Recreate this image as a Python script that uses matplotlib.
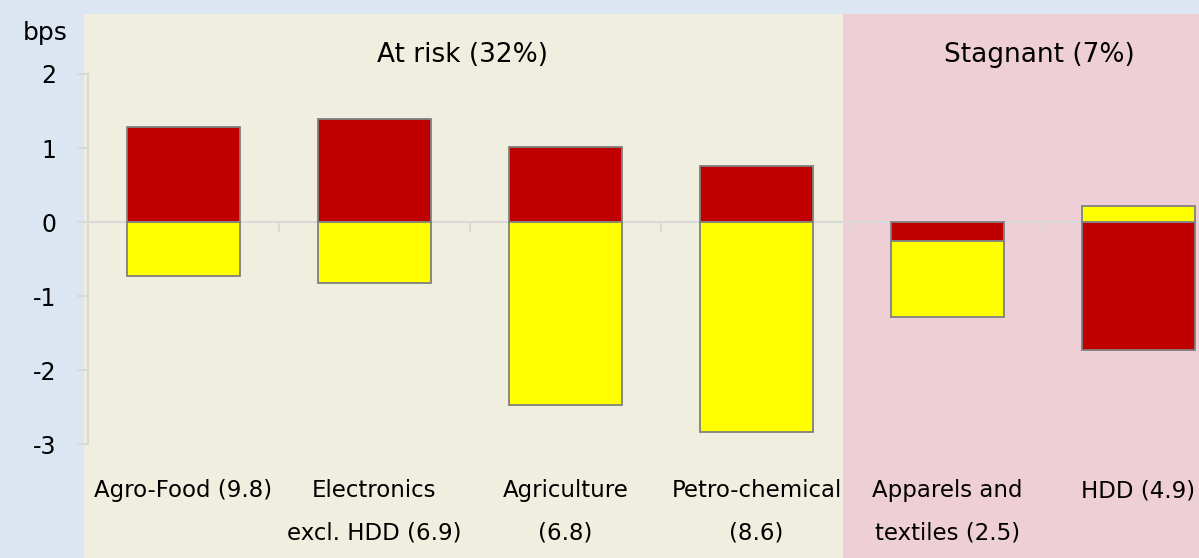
import numpy as np
import matplotlib.pyplot as plt
from matplotlib.patches import Rectangle

sectors = ["Agro-Food (9.8)", "Electronics\nexcl. HDD (6.9)", "Agriculture\n(6.8)",
           "Petro-chemical\n(8.6)", "Apparels and\ntextiles (2.5)", "HDD (4.9)"]
red_part = [1.28, 1.39, 1.02, 0.76, -0.25, -1.73]
yellow_part = [-0.73, -0.82, -2.47, -2.83, -1.03, 0.22]
groups = ["At risk (32%)", "Stagnant (7%)"]
yticks = [-3, -2, -1, 0, 1, 2]

W, H = 1199, 558
fig = plt.figure(figsize=(W / 100, H / 100), dpi=100)
fig.patch.set_facecolor("#dce6f2")

# beige / pink panels behind the plot
fig.patches.append(Rectangle((84 / W, 0), (843 - 84) / W, (H - 14) / H,
                             transform=fig.transFigure, facecolor="#f0efdf",
                             edgecolor="none", zorder=-2))
fig.patches.append(Rectangle((843 / W, 0), (W - 843) / W, (H - 14) / H,
                             transform=fig.transFigure, facecolor="#efcfd6",
                             edgecolor="none", zorder=-2))

ax = fig.add_axes([88 / W, (H - 444.5) / H, 1146 / W, 370.5 / H])
ax.set_facecolor("none")
ax.set_zorder(1)

x = np.arange(len(sectors))
red = np.array(red_part)
yel = np.array(yellow_part)
yel_bottom = np.where(np.sign(yel) == np.sign(red), red, 0.0)

ax.bar(x, red, width=0.59, color="#c00000", edgecolor="#808080", linewidth=1.3, zorder=3)
ax.bar(x, yel, bottom=yel_bottom, width=0.59, color="#ffff00", edgecolor="#808080",
       linewidth=1.3, zorder=3)

ax.set_xlim(-0.5, len(sectors) - 0.5)
ax.set_ylim(-3, 2)

for s in ["top", "right"]:
    ax.spines[s].set_visible(False)
ax.spines["left"].set_color("#d9d9d9")
ax.spines["left"].set_linewidth(1.5)
ax.spines["bottom"].set_position(("data", 0))
ax.spines["bottom"].set_color("#d9d9d9")
ax.spines["bottom"].set_linewidth(1.5)
ax.spines["bottom"].set_zorder(2)

ax.set_yticks(yticks)
ax.set_yticklabels([str(v) for v in yticks])
ax.tick_params(axis="y", length=8, width=1.5, color="#d9d9d9", pad=15,
               labelsize=17, labelcolor="black")
ax.set_xticks(np.arange(len(sectors) + 1) - 0.5)
ax.set_xticklabels([])
ax.tick_params(axis="x", length=7.5, width=1.5, color="#d9d9d9", direction="out")

# category labels under the plot
for i, name in enumerate(sectors):
    ax.text(i, -3.47, name, ha="center", va="top", fontsize=16.5,
            linespacing=2.04, clip_on=False)

ax.text(1.46, 2.26, groups[0], ha="center", va="center", fontsize=19, clip_on=False)
ax.text(4.48, 2.26, groups[1], ha="center", va="center", fontsize=19, clip_on=False)

fig.text(45 / W, 1 - 33 / H, "bps", ha="center", va="center", fontsize=18)

fig.savefig("out.png", dpi=100, facecolor=fig.get_facecolor())
